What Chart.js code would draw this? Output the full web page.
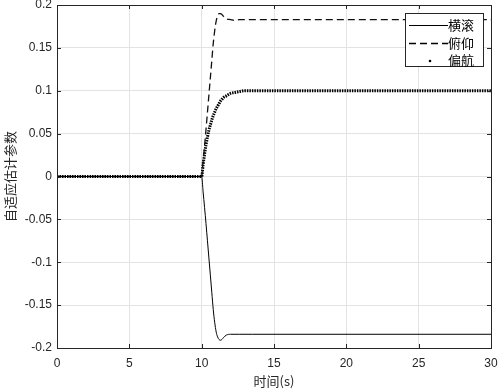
<!DOCTYPE html>
<html>
<head>
<meta charset="utf-8">
<script src="https://cdn.jsdelivr.net/npm/chart.js@4"></script>
<style>
  html, body { margin: 0; padding: 0; background: #fff; }
  #wrap { width: 499px; height: 391px; }
</style>
</head>
<body>
<div id="wrap"><canvas id="myChart" width="499" height="391"></canvas></div>
<script>
/*---------------------------------------------------------------*/
//datos
const time = [0, 10, 10.1, 10.2, 10.3, 10.4, 10.5, 10.6, 10.7, 10.8, 10.9, 11.0, 11.1, 11.2, 11.3, 11.4, 11.5, 11.7, 12.0, 12.3, 12.6, 13, 13.5, 30];
const rollVals  = [0, 0, -0.018, -0.036, -0.055, -0.075, -0.095, -0.115, -0.135, -0.155, -0.170, -0.181, -0.187, -0.190, -0.191, -0.190, -0.188, -0.185, -0.184, -0.184, -0.184, -0.184, -0.184, -0.184];
const pitchVals = [0, 0, 0.018, 0.036, 0.055, 0.075, 0.095, 0.115, 0.135, 0.155, 0.170, 0.181, 0.187, 0.190, 0.190, 0.189, 0.187, 0.184, 0.183, 0.182, 0.183, 0.183, 0.183, 0.183];
const yawVals   = [0, 0, 0.014, 0.026, 0.037, 0.046, 0.054, 0.060, 0.066, 0.071, 0.075, 0.079, 0.082, 0.085, 0.088, 0.090, 0.092, 0.094, 0.097, 0.098, 0.099, 0.100, 0.100, 0.100];
const seriesNames = ['横滚', '俯仰', '偏航'];
const xTicks = [0, 5, 10, 15, 20, 25, 30];
const yTicks = [-0.2, -0.15, -0.1, -0.05, 0, 0.05, 0.1, 0.15, 0.2];

const toPoints = (vals) => vals.map((v, i) => ({ x: time[i], y: v }));

/*---------------------------------------------------------------*/
//caja, ticks y leyenda
const matlabBox = {
    id: 'matlabBox',
    afterDraw(chart) {
        const ctx = chart.ctx;
        const a = chart.chartArea;
        const xs = chart.scales.x, ys = chart.scales.y;
        ctx.save();
        ctx.strokeStyle = '#262626';
        ctx.lineWidth = 1;
        ctx.strokeRect(Math.round(a.left) + 0.5, Math.round(a.top) + 0.5,
                       Math.round(a.right - a.left), Math.round(a.bottom - a.top));
        ctx.beginPath();
        xTicks.forEach(t => {
            const px = Math.round(xs.getPixelForValue(t)) + 0.5;
            ctx.moveTo(px, a.bottom); ctx.lineTo(px, a.bottom - 4);
            ctx.moveTo(px, a.top); ctx.lineTo(px, a.top + 4);
        });
        yTicks.forEach(t => {
            const py = Math.round(ys.getPixelForValue(t)) + 0.5;
            ctx.moveTo(a.left, py); ctx.lineTo(a.left + 4, py);
            ctx.moveTo(a.right, py); ctx.lineTo(a.right - 4, py);
        });
        ctx.stroke();

        // leyenda
        const bx = 405.5, by = 13.5, bw = 78, bh = 53;
        ctx.fillStyle = '#fff';
        ctx.fillRect(bx, by, bw, bh);
        ctx.strokeStyle = '#262626';
        ctx.strokeRect(bx, by, bw, bh);
        const rows = [25, 43, 60];
        ctx.font = '13px "Noto Sans CJK SC"';
        ctx.textBaseline = 'middle';
        ctx.textAlign = 'left';
        rows.forEach((ry, i) => {
            ctx.strokeStyle = '#000';
            ctx.fillStyle = '#000';
            if (i === 0) {
                ctx.lineWidth = 1;
                ctx.setLineDash([]);
                ctx.beginPath(); ctx.moveTo(409, ry + 0.5); ctx.lineTo(448, ry + 0.5); ctx.stroke();
            } else if (i === 1) {
                ctx.lineWidth = 1.3;
                ctx.setLineDash([7, 4]);
                ctx.beginPath(); ctx.moveTo(409, ry + 0.5); ctx.lineTo(448, ry + 0.5); ctx.stroke();
                ctx.setLineDash([]);
            } else {
                ctx.beginPath(); ctx.arc(430, ry + 1, 1.3, 0, Math.PI * 2); ctx.fill();
            }
            ctx.fillStyle = '#000';
            ctx.fillText(seriesNames[i], 448, ry);
        });
        ctx.restore();
    }
};

/*---------------------------------------------------------------*/
//grafico
var ctx = document.getElementById('myChart');
var myChart = new Chart(ctx, {
    type: 'line',
    data: {
        datasets: [{
            label: seriesNames[0],
            data: toPoints(rollVals),
            borderColor: '#000',
            borderWidth: 1,
            pointRadius: 0,
            cubicInterpolationMode: 'monotone'
        }, {
            label: seriesNames[1],
            data: toPoints(pitchVals),
            borderColor: '#111',
            borderWidth: 1.3,
            borderDash: [7, 4],
            pointRadius: 0,
            cubicInterpolationMode: 'monotone'
        }, {
            label: seriesNames[2],
            data: toPoints(yawVals),
            borderColor: '#000',
            borderWidth: 3,
            borderDash: [1.5, 1],
            pointRadius: 0,
            cubicInterpolationMode: 'monotone'
        }]
    },
    options: {
        responsive: false,
        animation: false,
        layout: { padding: { top: 5, right: 8, left: 0, bottom: 0 } },
        plugins: {
            legend: { display: false },
            tooltip: { enabled: false }
        },
        scales: {
            x: {
                type: 'linear',
                min: 0, max: 30,
                afterBuildTicks: (s) => { s.ticks = xTicks.map(v => ({ value: v })); },
                afterFit: (s) => { s.height = 43; s.paddingLeft = 0; s.paddingRight = 0; },
                grid: { color: '#e3e3e3', drawTicks: false },
                border: { display: false },
                ticks: {
                    padding: 8,
                    color: '#262626',
                    font: { family: 'Liberation Sans', size: 12 },
                    maxRotation: 0
                },
                title: {
                    display: true,
                    text: '时间(s)',
                    color: '#262626',
                    padding: { top: 0, bottom: 2 },
                    font: { family: '"Noto Sans CJK SC"', size: 13 }
                }
            },
            y: {
                min: -0.2, max: 0.2,
                afterBuildTicks: (s) => { s.ticks = yTicks.map(v => ({ value: v })); },
                afterFit: (s) => { s.width = 57; s.paddingTop = 0; s.paddingBottom = 0; },
                grid: { color: '#e3e3e3', drawTicks: false },
                border: { display: false },
                ticks: {
                    padding: 5,
                    color: '#262626',
                    font: { family: 'Liberation Sans', size: 12 },
                    callback: (v) => String(Number(v.toFixed(2)))
                },
                title: {
                    display: true,
                    text: '自适应估计参数',
                    color: '#262626',
                    padding: { top: 2, bottom: 0 },
                    font: { family: '"Noto Sans CJK SC"', size: 13 }
                }
            }
        }
    },
    plugins: [matlabBox]
});
</script>
</body>
</html>
